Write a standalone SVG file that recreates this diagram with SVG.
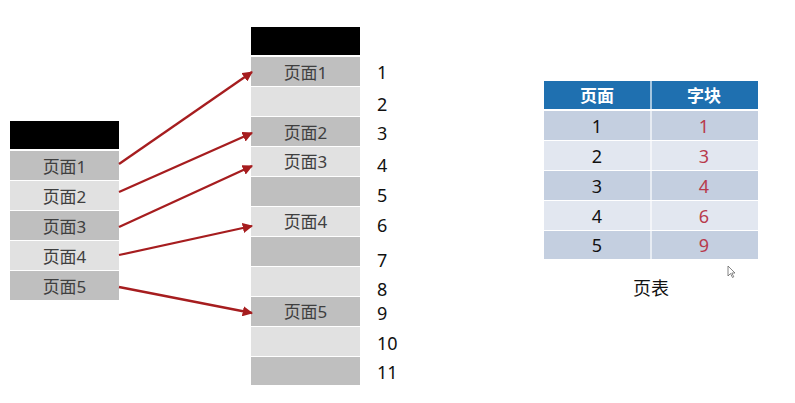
<svg xmlns="http://www.w3.org/2000/svg" width="795" height="403" viewBox="0 0 795 403">
<style>
.t{font-family:"Noto Sans","Noto Sans CJK SC",sans-serif;}
.lbl{font-size:17px;fill:#3f3f3f;text-anchor:middle;dominant-baseline:central;}
.num{font-size:18px;fill:#111;dominant-baseline:central;}
.dk{fill:#bfbfbf;}
.lt{fill:#e1e1e1;}
.hd{fill:#000;}
.arr{stroke:#a61d1f;stroke-width:2.3;fill:none;marker-end:url(#ah);}
.th{font-size:17px;font-weight:bold;fill:#fff;text-anchor:middle;dominant-baseline:central;}
.tc{font-size:18px;text-anchor:middle;dominant-baseline:central;}
</style>
<defs>
<marker id="ah" viewBox="0 0 10 10" refX="9" refY="5" markerWidth="4.5" markerHeight="4.5" orient="auto" markerUnits="strokeWidth">
<path d="M0,0 L10,5 L0,10 Z" fill="#a61d1f"/>
</marker>
</defs>
<rect width="795" height="403" fill="#fff"/>

<g id="left-column" class="t">
<rect class="hd" x="10" y="121" width="109" height="28"/>
<g id="L1"><rect class="dk" x="10" y="151" width="109" height="29"/><text class="lbl" x="64.5" y="166">页面1</text></g>
<g id="L2"><rect class="lt" x="10" y="181" width="109" height="29"/><text class="lbl" x="64.5" y="196">页面2</text></g>
<g id="L3"><rect class="dk" x="10" y="211" width="109" height="29"/><text class="lbl" x="64.5" y="226">页面3</text></g>
<g id="L4"><rect class="lt" x="10" y="241" width="109" height="29"/><text class="lbl" x="64.5" y="256">页面4</text></g>
<g id="L5"><rect class="dk" x="10" y="271" width="109" height="29"/><text class="lbl" x="64.5" y="286">页面5</text></g>
</g>

<g id="memory-column" class="t">
<rect class="hd" x="251" y="27" width="109" height="28"/>
<g id="M1"><rect class="dk" x="251" y="57" width="109" height="29"/><text class="lbl" x="305.5" y="72">页面1</text><text class="num" x="377" y="72">1</text></g>
<g id="M2"><rect class="lt" x="251" y="87" width="109" height="29"/><text class="num" x="377" y="104">2</text></g>
<g id="M3"><rect class="dk" x="251" y="117" width="109" height="29"/><text class="lbl" x="305.5" y="132">页面2</text><text class="num" x="377" y="133">3</text></g>
<g id="M4"><rect class="lt" x="251" y="147" width="109" height="29"/><text class="lbl" x="305.5" y="161">页面3</text><text class="num" x="377" y="165">4</text></g>
<g id="M5"><rect class="dk" x="251" y="177" width="109" height="29"/><text class="num" x="377" y="195">5</text></g>
<g id="M6"><rect class="lt" x="251" y="207" width="109" height="29"/><text class="lbl" x="305.5" y="221">页面4</text><text class="num" x="377" y="225">6</text></g>
<g id="M7"><rect class="dk" x="251" y="237" width="109" height="29"/><text class="num" x="377" y="260">7</text></g>
<g id="M8"><rect class="lt" x="251" y="267" width="109" height="29"/><text class="num" x="377" y="289">8</text></g>
<g id="M9"><rect class="dk" x="251" y="297" width="109" height="29"/><text class="lbl" x="305.5" y="311">页面5</text><text class="num" x="377" y="313">9</text></g>
<g id="M10"><rect class="lt" x="251" y="327" width="109" height="29"/><text class="num" x="377" y="343">10</text></g>
<g id="M11"><rect class="dk" x="251" y="357" width="109" height="28"/><text class="num" x="377" y="372">11</text></g>
</g>

<g id="connectors">
<line class="arr" x1="119" y1="164" x2="252" y2="72"/>
<line class="arr" x1="119" y1="192" x2="252" y2="133"/>
<line class="arr" x1="119" y1="227" x2="252" y2="166"/>
<line class="arr" x1="119" y1="255" x2="252" y2="226"/>
<line class="arr" x1="119" y1="287" x2="252" y2="313"/>
</g>

<g id="page-table" class="t">
<rect x="544" y="81" width="214" height="28" fill="#1f70b0"/>
<rect x="544" y="111" width="214" height="29" fill="#c4cfe0"/>
<rect x="544" y="141" width="214" height="29" fill="#e2e7f0"/>
<rect x="544" y="171" width="214" height="29" fill="#c4cfe0"/>
<rect x="544" y="201" width="214" height="29" fill="#e2e7f0"/>
<rect x="544" y="231" width="214" height="28" fill="#c4cfe0"/>
<line x1="651" y1="81" x2="651" y2="259" stroke="#fff" stroke-width="1.2"/>
<text class="th" x="597" y="95">页面</text>
<text class="th" x="704" y="95">字块</text>
<g fill="#111"><text class="tc" x="597" y="126">1</text><text class="tc" x="597" y="156">2</text><text class="tc" x="597" y="186">3</text><text class="tc" x="597" y="216">4</text><text class="tc" x="597" y="245">5</text></g>
<g fill="#b83a4c"><text class="tc" x="704" y="126">1</text><text class="tc" x="704" y="156">3</text><text class="tc" x="704" y="186">4</text><text class="tc" x="704" y="216">6</text><text class="tc" x="704" y="245">9</text></g>
<text x="651" y="288" class="t" font-size="18" fill="#111" text-anchor="middle" dominant-baseline="central">页表</text>
</g>

<path d="M728,266 L728,276 L730.5,273.5 L732.5,277.5 L733.8,276.8 L731.8,273 L735,273 Z" fill="#fff" stroke="#666" stroke-width="0.8"/>
</svg>
